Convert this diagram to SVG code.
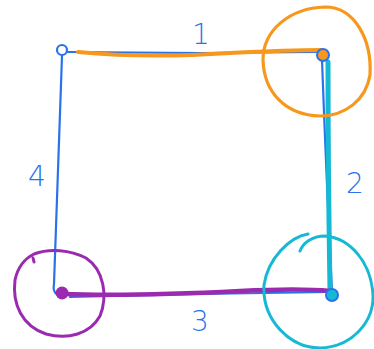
<svg xmlns="http://www.w3.org/2000/svg" width="374" height="349" viewBox="0 0 374 349">
<style>
.b{fill:none;stroke:#2a72ea;stroke-width:2.2;stroke-linecap:round;stroke-linejoin:round}
.o{fill:none;stroke:#f7981d;stroke-linecap:round;stroke-linejoin:round}
.c{fill:none;stroke:#16b9d4;stroke-linecap:round;stroke-linejoin:round}
.p{fill:none;stroke:#9a2bb0;stroke-linecap:round;stroke-linejoin:round}
.t{font-family:"DejaVu Sans",sans-serif;font-size:28px;fill:#2a72ea;font-weight:300}
</style>
<g id="connectors">
  <path class="b" d="M67,52 L200,53 L318,52"/>
  <path class="o" stroke-width="4" d="M78,52 C120,56 170,57 230,53 C270,51 300,50 321,50"/>
  <path class="b" d="M322,60 Q326,170 332,292"/>
  <path class="c" stroke-width="5" d="M328,62 Q328,170 330,290"/>
  <path class="b" d="M62,56 Q58,170 54,284 Q52,295 62,296"/>
  <path class="b" d="M70,297 L200,294 L328,292"/>
  <path class="p" stroke-width="4.5" d="M62,294 C120,296 180,294 240,291 C280,289 310,289 330,291"/>
</g>
<g id="n1">
  <circle cx="62" cy="50" r="5" class="b"/>
</g>
<g id="n2">
  <path class="o" stroke-width="3.2" d="M263,60 C263,30 290,8 325,7 C355,7 372,40 370,75 C366,100 345,116 320,116 C285,115 264,92 263,60 Z"/>
  <circle cx="323" cy="55" r="6" fill="#f7981d" stroke="#2a72ea" stroke-width="2"/>
</g>
<g id="n3">
  <path class="c" stroke-width="3" d="M308,234 C290,237 268,258 264,285 C262,320 290,348 320,348 C352,347 374,322 373,295 C371,262 350,238 325,236 C312,236 303,243 300,251"/>
  <circle cx="332" cy="295" r="6" fill="#16b9d4" stroke="#2a72ea" stroke-width="2"/>
</g>
<g id="n4">
  <path class="p" stroke-width="3" d="M34,254 C50,248 70,250 86,258 C104,270 108,296 100,316 C90,334 68,340 46,334 C22,326 12,304 15,280 C18,266 26,258 34,254 Z M33,258 L34,262"/>
  <circle cx="62" cy="293" r="6.5" fill="#9a2bb0"/>
</g>
<g id="labels">
  <text class="t" x="192" y="44">1</text>
  <text class="t" x="346" y="193">2</text>
  <text class="t" x="191" y="331">3</text>
  <text class="t" x="28" y="186">4</text>
</g>
</svg>
